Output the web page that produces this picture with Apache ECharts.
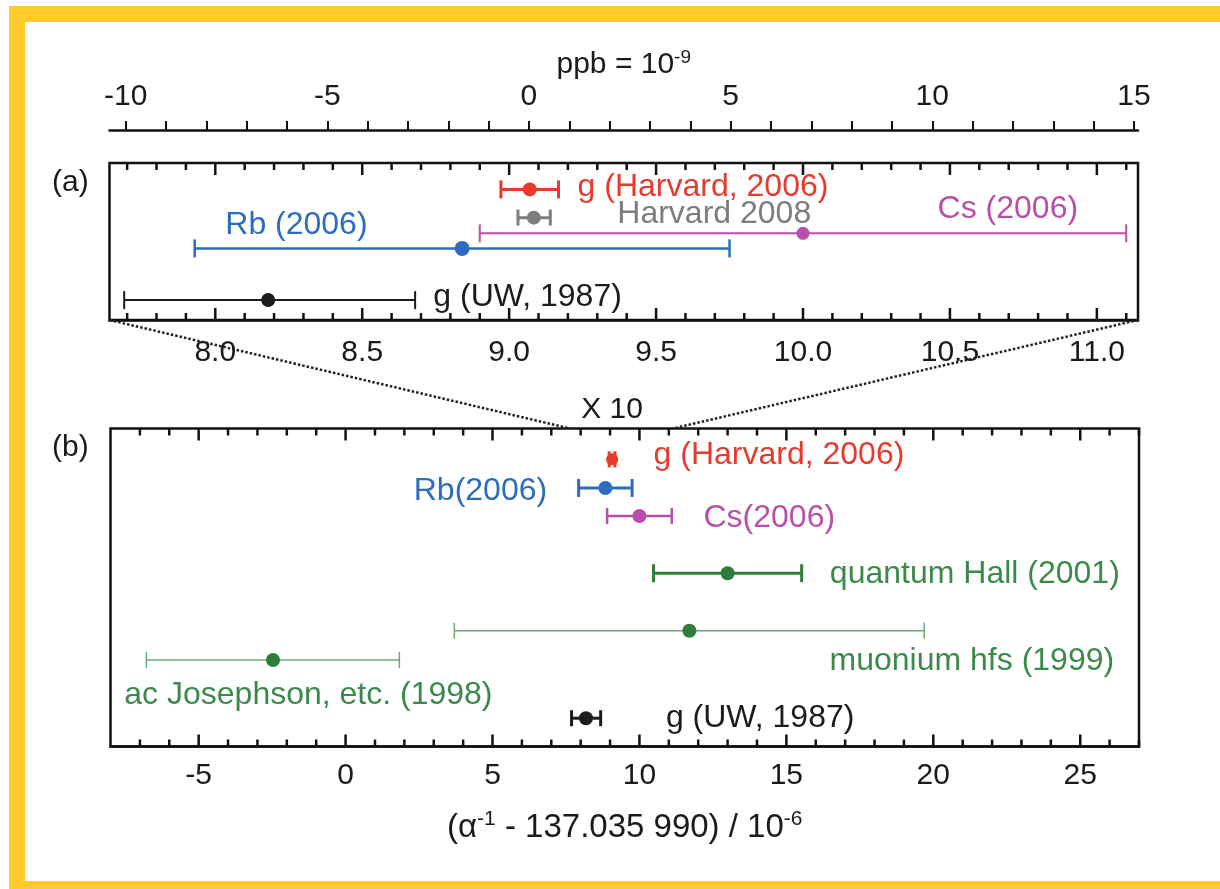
<!DOCTYPE html>
<html>
<head>
<meta charset="utf-8">
<script src="https://cdn.jsdelivr.net/npm/echarts@6.0.0/dist/echarts.min.js"></script>
<style>
  html, body { margin: 0; padding: 0; background: #fff; }
  #chart { position: absolute; left: 0; top: 0; width: 1220px; height: 889px; }
  #frame {
    position: absolute; left: 9px; top: 6px; width: 1211px; height: 883px; box-sizing: border-box;
    border-left: 16px solid #ffca2a; border-top: 16px solid #ffca2a; border-bottom: 8px solid #ffca2a;
    pointer-events: none;
  }
</style>
</head>
<body>
<div id="chart"></div>
<div id="frame"></div>
<script>
// values are (alpha^-1 - 137.035 990) / 1e-6

// panel (a), zoomed view
const labelsA = ['g (Harvard, 2006)', 'Harvard 2008', 'Cs (2006)', 'Rb (2006)', 'g (UW, 1987)'];
const valuesA = [9.070, 9.084, 10.00, 8.84, 8.18];
const lowA = [8.972, 9.030, 8.90, 7.93, 7.69];
const highA = [9.168, 9.140, 11.10, 9.75, 8.68];
const rowA = [83.2, 65.2, 55.2, 45.6, 12.7];

// panel (b), full view
const labelsB = ['g (Harvard, 2006)', 'Rb(2006)', 'Cs(2006)', 'quantum Hall (2001)', 'muonium hfs (1999)', 'ac Josephson, etc. (1998)', 'g (UW, 1987)'];
const valuesB = [9.07, 8.84, 10.00, 13.0, 11.7, -2.47, 8.18];
const lowB = [8.972, 7.93, 8.90, 10.48, 3.70, -6.78, 7.69];
const highB = [9.168, 9.75, 11.10, 15.52, 19.69, 1.83, 8.68];
const rowB = [90.3, 81.3, 72.5, 54.5, 36.4, 27.2, 8.9];

// axes
const rangePpb = [-10.40, 15.10];
const rangeA = [7.64, 11.14];
const rangeB = [-8, 27];
const ppbTicks = [-10, -5, 0, 5, 10, 15];
const aTicks = [8.0, 8.5, 9.0, 9.5, 10.0, 10.5, 11.0];
const bTicks = [-5, 0, 5, 10, 15, 20, 25];

function steps(from, to, step) {
  const out = [];
  for (let v = from; v <= to + step / 2; v += step) out.push(Math.round(v * 100) / 100);
  return out;
}
const ppbMinor = steps(-10, 15, 1);
const aMinor = steps(7.7, 11.1, 0.1);
const bMinor = steps(-7, 27, 1);

const RED = '#e63a2c', GRAY = '#7d7d7d', MAG = '#b84fab', BLUE = '#2c6dbf', BLK = '#1c1c1c';
const GRN = '#2f7d3b', GRN_T = '#3b8a4a', GRN_L = '#6aa877';
const FONT = '"Liberation Sans", Arial, Helvetica, sans-serif';

const lookA = [
  { color: RED, lw: 3, cap: 9, r: 7, lx: 9.233, dy: -2 },
  { color: GRAY, lw: 3, cap: 8, r: 7, lx: 9.368, dy: -3 },
  { color: MAG, lw: 2, cap: 9, r: 6.5, lx: 10.458, dy: -24 },
  { color: BLUE, lw: 2.5, cap: 9, r: 7.5, lx: 8.034, dy: -23 },
  { color: BLK, lw: 2, cap: 9, r: 7, lx: 8.742, dy: -3 }
];
const lookB = [
  { color: RED, lw: 3, cap: 8, r: 6, lx: 10.48, dy: -4 },
  { color: BLUE, lw: 3, cap: 9, r: 7, lx: 6.86, dy: 3, align: 'right' },
  { color: MAG, lw: 2.5, cap: 8, r: 7, lx: 12.18, dy: 2 },
  { color: GRN, text: GRN_T, lw: 3, cap: 9, r: 7, lx: 16.48, dy: 1 },
  { color: GRN, bar: GRN_L, text: GRN_T, lw: 1.5, cap: 8, r: 7, lx: 16.47, dy: 30 },
  { color: GRN, bar: GRN_L, text: GRN_T, lw: 1.5, cap: 8, r: 7, lx: -7.53, dy: 35 },
  { color: BLK, lw: 3, cap: 8, r: 7, lx: 10.9, dy: 0 }
];

function errorSeries(xIdx, yIdx, values, lows, highs, rows, labels, look) {
  return {
    type: 'custom',
    xAxisIndex: xIdx,
    yAxisIndex: yIdx,
    clip: false,
    silent: true,
    z: 3,
    data: values.map((v, i) => [v, lows[i], highs[i], rows[i]]),
    encode: { x: [0, 1, 2], y: 3 },
    renderItem: function (params, api) {
      const i = params.dataIndex;
      const s = look[i];
      const y = api.value(3);
      const p = api.coord([api.value(0), y]);
      const l = api.coord([api.value(1), y]);
      const h = api.coord([api.value(2), y]);
      const t = api.coord([s.lx, y]);
      const ls = { stroke: s.bar || s.color, lineWidth: s.lw };
      return {
        type: 'group',
        children: [
          { type: 'line', shape: { x1: l[0], y1: l[1], x2: h[0], y2: h[1] }, style: ls },
          { type: 'line', shape: { x1: l[0], y1: l[1] - s.cap, x2: l[0], y2: l[1] + s.cap }, style: ls },
          { type: 'line', shape: { x1: h[0], y1: h[1] - s.cap, x2: h[0], y2: h[1] + s.cap }, style: ls },
          { type: 'circle', shape: { cx: p[0], cy: p[1], r: s.r }, style: { fill: s.color } },
          {
            type: 'text', x: t[0], y: t[1] + s.dy,
            style: {
              text: labels[i], fill: s.text || s.color, fontSize: 32, fontFamily: FONT,
              align: s.align || 'left', verticalAlign: 'middle'
            }
          }
        ]
      };
    }
  };
}

function frameAxis(grid, range, labels, margin) {
  return {
    type: 'value', gridIndex: grid, position: 'bottom', min: range[0], max: range[1],
    axisLine: { show: true, onZero: false, lineStyle: { color: '#111', width: 2.5 } },
    splitLine: { show: false },
    axisTick: { show: false },
    axisLabel: {
      show: true, customValues: labels, margin: margin, color: '#1a1a1a', fontSize: 30, fontFamily: FONT,
      formatter: grid === 1 ? (v => v.toFixed(1)) : (v => String(v))
    }
  };
}

const chart = echarts.init(document.getElementById('chart'));
const option = {
  animation: false,
  backgroundColor: '#ffffff',
  grid: [
    { left: 109.5, right: 82, top: 130, height: 20, show: false },
    { left: 109.5, right: 82, top: 163, height: 157, show: true, borderColor: '#111', borderWidth: 2.5, backgroundColor: 'transparent' },
    { left: 110.5, right: 81, top: 428.5, height: 318, show: true, borderColor: '#111', borderWidth: 2.5, backgroundColor: 'transparent' }
  ],
  xAxis: [
    {
      type: 'value', gridIndex: 0, position: 'top', min: rangePpb[0], max: rangePpb[1],
      axisLine: { show: true, onZero: false, lineStyle: { color: '#111', width: 2.5 } },
      splitLine: { show: false },
      axisTick: { show: true, inside: false, length: 9, customValues: ppbMinor, lineStyle: { color: '#111', width: 2 } },
      axisLabel: { customValues: ppbTicks, margin: 18, color: '#1a1a1a', fontSize: 30, fontFamily: FONT },
      name: '{t|ppb = 10}{s|-9}',
      nameLocation: 'middle',
      nameGap: 48,
      nameTextStyle: {
        rich: {
          t: { fontSize: 30, fontFamily: FONT, color: '#1a1a1a', lineHeight: 34 },
          s: { fontSize: 19, fontFamily: FONT, color: '#1a1a1a', verticalAlign: 'top', lineHeight: 34 }
        }
      }
    },
    frameAxis(1, rangeA, aTicks, 18),
    Object.assign(frameAxis(2, rangeB, bTicks, 14), {
      name: '{t|(α}{s|-1}{t| - 137.035 990) / 10}{s|-6}',
      nameLocation: 'middle',
      nameGap: 62,
      nameTextStyle: {
        rich: {
          t: { fontSize: 33, fontFamily: FONT, color: '#1a1a1a', lineHeight: 38 },
          s: { fontSize: 21, fontFamily: FONT, color: '#1a1a1a', verticalAlign: 'top', lineHeight: 38 }
        }
      }
    })
  ],
  yAxis: [0, 1, 2].map(g => ({ type: 'value', gridIndex: g, min: 0, max: 100, show: false, splitLine: { show: false } })),
  series: [
    errorSeries(1, 1, valuesA, lowA, highA, rowA, labelsA, lookA),
    errorSeries(2, 2, valuesB, lowB, highB, rowB, labelsB, lookB)
  ]
};
chart.setOption(option);

// inward frame ticks on top and bottom edges, placed through each panel's scales
const tickStyle = { stroke: '#111', lineWidth: 2.5 };
function frameTicks(seriesIndex, all, major) {
  const out = [];
  all.forEach(v => {
    const len = major.includes(v) ? 12 : 7;
    const b = chart.convertToPixel({ seriesIndex: seriesIndex }, [v, 0]);
    const t = chart.convertToPixel({ seriesIndex: seriesIndex }, [v, 100]);
    out.push({ type: 'line', shape: { x1: b[0], y1: b[1], x2: b[0], y2: b[1] - len }, style: tickStyle, z: 5 });
    out.push({ type: 'line', shape: { x1: t[0], y1: t[1], x2: t[0], y2: t[1] + len }, style: tickStyle, z: 5 });
  });
  return out;
}

// zoom guide lines from panel (a) corners down to the same range on panel (b)
const aL = chart.convertToPixel({ seriesIndex: 0 }, [rangeA[0], 0]);
const aR = chart.convertToPixel({ seriesIndex: 0 }, [rangeA[1], 0]);
const bL = chart.convertToPixel({ seriesIndex: 1 }, [rangeA[0], 100]);
const bR = chart.convertToPixel({ seriesIndex: 1 }, [rangeA[1], 100]);
const dots = { stroke: '#222', lineWidth: 2.5, lineDash: [2.5, 2] };
const txt = { fill: '#1a1a1a', fontSize: 30, fontFamily: FONT, verticalAlign: 'middle' };

chart.setOption({
  graphic: [
    { type: 'line', shape: { x1: aL[0], y1: aL[1], x2: bL[0], y2: bL[1] }, style: dots, z: 1 },
    { type: 'line', shape: { x1: aR[0], y1: aR[1], x2: bR[0], y2: bR[1] }, style: dots, z: 1 },
    { type: 'text', x: 52, y: 183, style: Object.assign({ text: '(a)' }, txt) },
    { type: 'text', x: 52, y: 448, style: Object.assign({ text: '(b)' }, txt) },
    { type: 'text', x: 612, y: 410, style: Object.assign({ text: 'X 10', align: 'center' }, txt) }
  ].concat(frameTicks(0, aMinor, aTicks), frameTicks(1, bMinor, bTicks))
});
</script>
</body>
</html>
